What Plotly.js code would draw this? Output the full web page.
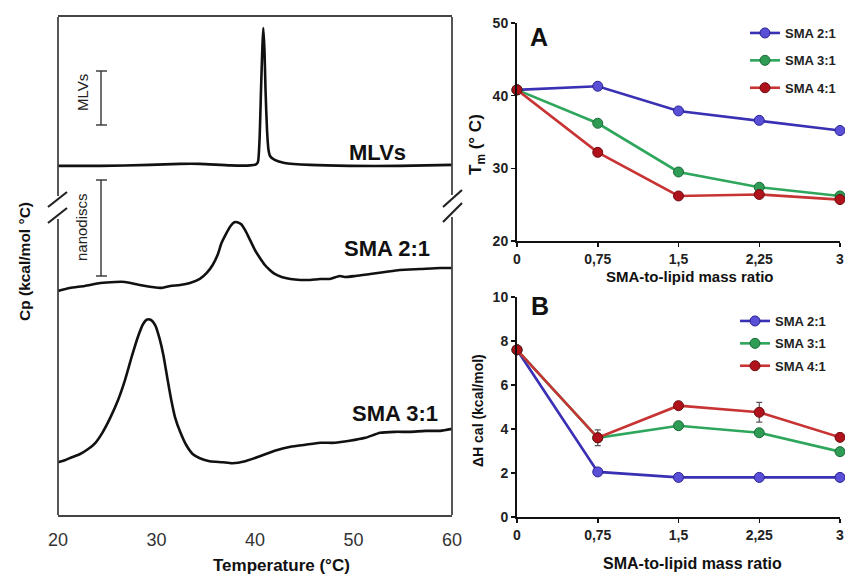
<!DOCTYPE html>
<html>
<head>
<meta charset="utf-8">
<script src="https://cdn.plot.ly/plotly-3.0.1.min.js"></script>
<style>html,body{margin:0;padding:0;background:#fff;}#chart{width:845px;height:574px;}</style>
</head>
<body>
<div id="chart"></div>
<script>
// ---------- Left panel: DSC thermograms (Cp in arbitrary offset units) ----------
var tempMLV = [20, 24.3, 29.3, 32.4, 34.4, 37.5, 39.5, 40.1, 40.3, 40.46, 40.61, 40.74, 40.84, 40.96, 41.07, 41.22, 41.37, 41.52, 42.0, 43.0, 45.6, 49.6, 54.7, 60];
var cpMLV   = [70.1, 70.1, 70.3, 70.5, 70.5, 70.2, 70.2, 70.4, 70.9, 75.3, 85.3, 93.4, 97.8, 93.4, 85.3, 77.3, 73.3, 72.1, 71.3, 70.7, 70.3, 70.1, 70.1, 70.3];

var temp21 = [20.0, 21.2, 22.7, 24.3, 25.8, 26.8, 28.3, 30.4, 31.4, 32.4, 33.4, 34.4, 35.1, 35.7, 36.2, 36.6, 37.1, 37.5, 37.9, 38.2, 38.6, 39.0, 39.5, 40.0, 40.5, 41.0, 41.5, 42.0, 42.7, 43.6, 44.6, 45.6, 46.6, 47.6, 48.6, 49.1, 50.2, 51.7, 53.2, 54.7, 56.8, 58.8, 60.0];
var cp21   = [45.0, 45.6, 46.0, 46.6, 46.8, 46.8, 46.2, 45.6, 46.0, 46.2, 46.6, 47.4, 48.6, 50.2, 52.2, 54.6, 56.6, 58.0, 58.8, 58.8, 58.4, 57.2, 55.2, 53.2, 51.6, 50.2, 49.2, 48.4, 47.8, 47.4, 47.2, 47.2, 47.4, 47.4, 48.0, 47.8, 48.0, 48.4, 48.8, 49.2, 49.4, 49.6, 49.6];

var temp31 = [20.0, 20.7, 21.4, 22.2, 23.1, 23.8, 24.5, 25.3, 26.1, 26.8, 27.5, 28.1, 28.6, 29.0, 29.4, 29.9, 30.3, 30.7, 31.1, 31.5, 31.9, 32.4, 33.0, 33.7, 34.4, 35.4, 36.7, 37.7, 39.0, 40.5, 42.0, 43.6, 45.1, 46.6, 48.1, 49.6, 51.2, 52.7, 54.2, 55.7, 57.3, 58.8, 60.0];
var cp31   = [10.6, 11.0, 11.6, 12.2, 13.3, 14.5, 16.5, 19.5, 23.1, 27.1, 31.9, 35.7, 38.2, 39.2, 39.2, 38.0, 35.5, 32.1, 27.5, 23.1, 19.5, 16.7, 14.1, 12.2, 11.4, 10.8, 10.6, 10.4, 10.8, 11.8, 12.9, 13.7, 14.1, 14.5, 14.5, 14.9, 15.5, 16.5, 16.7, 16.7, 16.9, 16.9, 17.3];

var tempTicks = [20, 30, 40, 50, 60];

// ---------- Right panels ----------
var ratio = [0, 0.75, 1.5, 2.25, 3];
var ratioLabels = ['0', '0,75', '1,5', '2,25', '3'];
var seriesNames = ['SMA 2:1', 'SMA 3:1', 'SMA 4:1'];

var tm21 = [40.8, 41.3, 37.9, 36.6, 35.2];
var tm31 = [40.8, 36.2, 29.5, 27.4, 26.2];
var tm41 = [40.8, 32.2, 26.2, 26.4, 25.7];

var dh21 = [7.6, 2.05, 1.8, 1.8, 1.8];
var dh31 = [7.6, 3.6, 4.15, 3.83, 2.97];
var dh41 = [7.6, 3.6, 5.06, 4.76, 3.62];
var dh41err = [0, 0.36, 0, 0.45, 0];

// ---------- styling ----------
var FONT = 'Liberation Sans, Arial, Helvetica, sans-serif';
var W = 845, H = 574;
function px(x) { return x / W; }
function py(y) { return 1 - y / H; }

var lineCol = ['#3a30b4', '#2ea65c', '#c83434'];
var markCol = ['#5a50d8', '#2f9c56', '#b0121c'];
var markEdge = ['#2a2290', '#1b6a38', '#6e0c10'];

var traces = [];
[[tempMLV, cpMLV], [temp21, cp21], [temp31, cp31]].forEach(function (d) {
  traces.push({
    x: d[0], y: d[1], type: 'scatter', mode: 'lines', xaxis: 'x', yaxis: 'y',
    line: {color: '#111', width: 2.6, shape: 'spline', smoothing: 0.6}, showlegend: false, hoverinfo: 'skip'
  });
});

var tmSeries = [tm21, tm31, tm41];
var dhSeries = [dh21, dh31, dh41];
for (var i = 0; i < 3; i++) {
  traces.push({
    x: ratio, y: tmSeries[i], type: 'scatter', mode: 'lines+markers', name: seriesNames[i],
    xaxis: 'x2', yaxis: 'y2', legend: 'legend', legendgroup: 'a' + i, cliponaxis: false,
    line: {color: lineCol[i], width: 2.6},
    marker: {color: markCol[i], size: 10, line: {color: markEdge[i], width: 1}}
  });
}
for (var j = 0; j < 3; j++) {
  var t = {
    x: ratio, y: dhSeries[j], type: 'scatter', mode: 'lines+markers', name: seriesNames[j],
    xaxis: 'x3', yaxis: 'y3', legend: 'legend2', legendgroup: 'b' + j, cliponaxis: false,
    line: {color: lineCol[j], width: 2.6},
    marker: {color: markCol[j], size: 10, line: {color: markEdge[j], width: 1}}
  };
  if (j === 2) {
    t.error_y = {type: 'data', array: dh41err, visible: true, color: '#555', thickness: 1.2, width: 3};
  }
  traces.push(t);
}

var tickFontR = {family: FONT, size: 14, color: '#222', weight: 'bold'};

var layout = {
  width: W, height: H, autosize: false,
  margin: {l: 0, r: 0, t: 0, b: 0, pad: 0},
  paper_bgcolor: '#fff', plot_bgcolor: 'rgba(0,0,0,0)',
  font: {family: FONT, color: '#111'},
  showlegend: true,
  xaxis: {
    domain: [px(58), px(452)], range: [20, 60], anchor: 'y',
    tickvals: tempTicks, ticks: '', showgrid: false, zeroline: false,
    showline: true, mirror: true, linecolor: '#444', linewidth: 1.8,
    tickfont: {family: FONT, size: 18, color: '#333'}, ticklabelstandoff: 8
  },
  yaxis: {
    domain: [py(515), py(17)], range: [0, 100], anchor: 'x',
    showticklabels: false, ticks: '', showgrid: false, zeroline: false, showline: false
  },
  xaxis2: {
    domain: [px(517), px(840)], range: [0, 3], anchor: 'y2',
    tickvals: ratio, ticktext: ratioLabels, ticks: 'outside', ticklen: 4, tickwidth: 1.5, tickcolor: '#111',
    showgrid: false, zeroline: false, showline: true, linecolor: '#111', linewidth: 2,
    tickfont: tickFontR
  },
  yaxis2: {
    domain: [py(241), py(23)], range: [20, 50], anchor: 'x2',
    tickvals: [20, 30, 40, 50], ticks: 'outside', ticklen: 4, tickwidth: 1.5, tickcolor: '#111',
    showgrid: false, zeroline: false, showline: true, linecolor: '#111', linewidth: 2,
    tickfont: tickFontR
  },
  xaxis3: {
    domain: [px(517), px(840)], range: [0, 3], anchor: 'y3',
    tickvals: ratio, ticktext: ratioLabels, ticks: 'outside', ticklen: 4, tickwidth: 1.5, tickcolor: '#111',
    showgrid: false, zeroline: false, showline: true, linecolor: '#111', linewidth: 2,
    tickfont: tickFontR
  },
  yaxis3: {
    domain: [py(517), py(297)], range: [0, 10], anchor: 'x3',
    tickvals: [0, 2, 4, 6, 8, 10], ticks: 'outside', ticklen: 4, tickwidth: 1.5, tickcolor: '#111',
    showgrid: false, zeroline: false, showline: true, linecolor: '#111', linewidth: 2,
    tickfont: tickFontR
  },
  legend: {
    x: px(745), y: py(18), xanchor: 'left', yanchor: 'top', bgcolor: 'rgba(0,0,0,0)',
    font: {family: FONT, size: 13, color: '#222', weight: 'bold'}, tracegroupgap: 7.5, itemwidth: 30
  },
  legend2: {
    x: px(735), y: py(306), xanchor: 'left', yanchor: 'top', bgcolor: 'rgba(0,0,0,0)',
    font: {family: FONT, size: 13, color: '#222', weight: 'bold'}, tracegroupgap: 2.5, itemwidth: 30
  },
  shapes: [],
  annotations: []
};

function addLine(x0, y0, x1, y1, w, c) {
  layout.shapes.push({type: 'line', xref: 'paper', yref: 'paper', x0: px(x0), y0: py(y0), x1: px(x1), y1: py(y1),
    line: {color: c || '#333', width: w || 1.8}});
}
// left box side edges with breaks
addLine(58, 17, 58, 196, 1.8, '#444');
addLine(58, 219, 58, 515, 1.8, '#444');
addLine(452, 17, 452, 195, 1.8, '#444');
addLine(452, 217, 452, 515, 1.8, '#444');
// break marks
addLine(48, 207, 67, 192, 2.2, '#222');
addLine(48, 223, 67, 208, 2.2, '#222');
addLine(443, 207, 462, 190, 2.2, '#222');
addLine(443, 222, 462, 203, 2.2, '#222');
// scale bars
addLine(101, 71, 101, 125, 1.4, '#333');
addLine(96, 71, 107, 71, 1.4, '#333');
addLine(96, 125, 107, 125, 1.4, '#333');
addLine(101, 180, 101, 276, 1.4, '#333');
addLine(96, 180, 107, 180, 1.4, '#333');
addLine(96, 276, 107, 276, 1.4, '#333');

function addText(text, x, y, size, bold, angle, color) {
  layout.annotations.push({text: text, xref: 'paper', yref: 'paper', x: px(x), y: py(y),
    xanchor: 'center', yanchor: 'middle', showarrow: false, textangle: angle || 0,
    font: {family: FONT, size: size, color: color || '#111', weight: bold ? 'bold' : 'normal'}});
}
addText('MLVs', 82, 93, 15, false, -90, '#222');
addText('nanodiscs', 82, 227, 15, false, -90, '#222');
addText('MLVs', 377, 153, 22, true);
addText('SMA 2:1', 387, 248, 22, true);
addText('SMA 3:1', 395, 413, 22, true);
addText('Cp (kcal/mol °C)', 24, 262, 15.5, true, -90);
addText('Temperature (°C)', 281, 565, 17, true);

addText('A', 539, 37, 25, true);
addText('B', 540, 306, 25, true);
addText('T<sub>m</sub> (° C)', 477, 145, 17, true, -90);
addText('ΔH cal (kcal/mol)', 478, 411, 14, true, -90);
addText('SMA-to-lipid mass ratio', 690, 276, 15, true);
addText('SMA-to-lipid mass ratio', 692, 563, 16, true);

Plotly.newPlot('chart', traces, layout, {staticPlot: true, displayModeBar: false});
</script>
</body>
</html>
